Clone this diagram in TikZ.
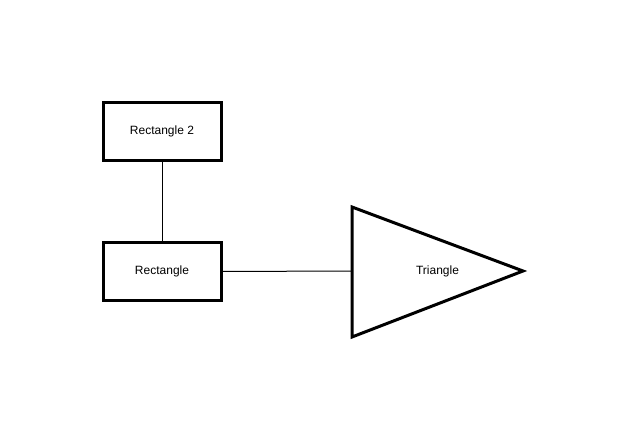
\documentclass[tikz,border=0pt]{standalone}
\usepackage{fontspec}
\setmainfont{Liberation Sans}
\begin{document}
\begin{tikzpicture}[x=1pt,y=1pt,
  box/.style={draw,line width=3pt,minimum width=118pt,minimum height=58pt,inner sep=0pt,font=\fontsize{12}{14}\selectfont},
  conn/.style={draw,line width=1pt}]
\useasboundingbox (0,0) rectangle (624,439);
\node[box] (r2) at (162,307.5) {Rectangle 2};
\node[box] (r1) at (162,167.5) {Rectangle};
\coordinate (ta) at (352,232);
\coordinate (tb) at (352,102);
\coordinate (tc) at (523,168);
\coordinate (tl) at (352,168);
\draw[line width=3pt,line join=miter] (ta) -- (tc) -- (tb) -- cycle;
\node[font=\fontsize{12}{14}\selectfont] (tri) at (437.5,168) {Triangle};
\draw[conn] (r2.south) -- (r1.north);
\draw[conn] (r1.east) -- (tl);
\end{tikzpicture}
\end{document}
